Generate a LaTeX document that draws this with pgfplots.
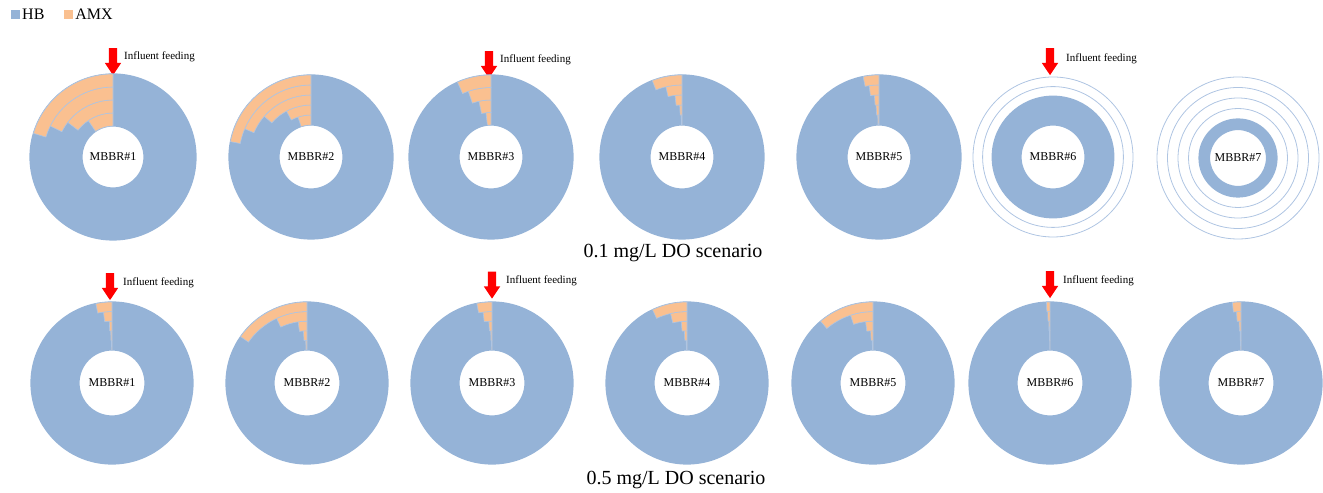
\documentclass[border=0pt]{standalone}
\usepackage{pgfplots}
\pgfplotsset{compat=1.18}
\usepackage{pgfplotstable}
\usepackage{fontspec}
\setmainfont{Liberation Serif}
\usetikzlibrary{shapes.arrows}
\definecolor{hbcol}{HTML}{95B3D7}
\definecolor{amxcol}{HTML}{FAC090}
\definecolor{ringline}{HTML}{AFC5E2}

\def\rin{10}\def\rout{20}\def\amx{0}\def\ringfill{1}
\pgfdeclareplotmark{hbring}{%
  \ifdim\ringfill pt>0.5pt
    \pgfsetfillcolor{hbcol}%
    \pgfsetstrokecolor{hbcol}%
    \pgfsetlinewidth{1.4pt}%
    \pgfseteorule
    \pgfpathcircle{\pgfpointorigin}{\rout pt - 0.1pt}%
    \pgfpathcircle{\pgfpointorigin}{\rin pt + 0.1pt}%
    \pgfusepath{fill,stroke}%
  \else
    \pgfsetstrokecolor{ringline}%
    \pgfsetlinewidth{0.8pt}%
    \pgfpathcircle{\pgfpointorigin}{\rout pt}%
    \pgfusepath{stroke}%
  \fi
}
\pgfdeclareplotmark{amxsector}{%
  \ifdim\amx pt>0pt
    \pgfkeys{/pgf/fpu=false}%
    \pgfmathsetmacro\endang{90+3.6*\amx}%
    \pgfsetfillcolor{amxcol}%
    \pgfsetstrokecolor{ringline}%
    \pgfsetlinewidth{0.6pt}%
    \pgfpathmoveto{\pgfpointpolar{90}{\rout pt}}%
    \pgfpatharc{90}{\endang}{\rout pt}%
    \pgfpathlineto{\pgfpointpolar{\endang}{\rin pt}}%
    \pgfpatharc{\endang}{90}{\rin pt}%
    \pgfpathclose
    \pgfusepath{fill,stroke}%
  \fi
}

% 0.1 mg/L DO scenario: one row per biofilm layer (ring), AMX share in %
\pgfplotstableread{
cx   cy  rin  rout amx  filled
113  335 31   44   9.5  1
113  335 44   57   14.6 1
113  335 57   70   17.7 1
113  335 70   83   20.4 1
311  335 32   42   5.0  1
311  335 42   52   7.8  1
311  335 52   62   13.6 1
311  335 62   72   18.6 1
311  335 72   82   22.0 1
491  335 32   44.5 1.8  1
491  335 44.5 57   3.4  1
491  335 57   69.5 5.3  1
491  335 69.5 82   6.7  1
682  335 32   42   0.3  1
682  335 42   52   0.7  1
682  335 52   62   1.8  1
682  335 62   72   3.6  1
682  335 72   82   5.9  1
879  335 32   42   0.5  1
879  335 42   52   0.9  1
879  335 52   62   1.2  1
879  335 62   72   2.2  1
879  335 72   82   3.1  1
1053 335 32   41.6 0    1
1053 335 41.6 51.2 0    1
1053 335 51.2 60.8 0    1
1053 335 60.8 70.4 0    0
1053 335 70.4 80   0    0
1238 334 28.5 39   0    1
1238 334 39   49.5 0    0
1238 334 49.5 60   0    0
1238 334 60   70.5 0    0
1238 334 70.5 81   0    0
}\toprings

% 0.5 mg/L DO scenario
\pgfplotstableread{
cx   cy  rin  rout amx  filled
112  109 33   42.6 0.2  1
112  109 42.6 52.2 0.4  1
112  109 52.2 61.8 0.7  1
112  109 61.8 71.4 1.9  1
112  109 71.4 81   3.2  1
307  109 33   42.6 0.5  1
307  109 42.6 52.2 1.1  1
307  109 52.2 61.8 2.3  1
307  109 61.8 71.4 7.0  1
307  109 71.4 81   15.3 1
492  109 33   42.6 0.2  1
492  109 42.6 52.2 0.4  1
492  109 52.2 61.8 0.8  1
492  109 61.8 71.4 2.0  1
492  109 71.4 81   3.0  1
687  109 33   42.6 0.3  1
687  109 42.6 52.2 0.8  1
687  109 52.2 61.8 1.5  1
687  109 61.8 71.4 3.7  1
687  109 71.4 81   7.0  1
873  109 33   42.6 0.3  1
873  109 42.6 52.2 0.7  1
873  109 52.2 61.8 1.9  1
873  109 61.8 71.4 5.1  1
873  109 71.4 81   11.2 1
1050 109 33   42.6 0.1  1
1050 109 42.6 52.2 0.2  1
1050 109 52.2 61.8 0.3  1
1050 109 61.8 71.4 0.5  1
1050 109 71.4 81   0.7  1
1241 109 33   42.6 0.2  1
1241 109 42.6 52.2 0.3  1
1241 109 52.2 61.8 0.5  1
1241 109 61.8 71.4 1.0  1
1241 109 71.4 81   1.7  1
}\botrings

\pgfplotsset{
  ringplot/.style={scatter, only marks, forget plot,
    scatter/@pre marker code/.code={\pgfscope},
    scatter/@post marker code/.code={\endpgfscope},
    visualization depends on={\thisrow{rin}\as\rin},
    visualization depends on={\thisrow{rout}\as\rout},
    visualization depends on={\thisrow{amx}\as\amx},
    visualization depends on={\thisrow{filled}\as\ringfill}},
}
\tikzset{
  lab/.style={font=\fontsize{12}{14}\selectfont},
  feed/.style={single arrow, fill=red, draw=none, rotate=-90,
        inner xsep=0pt, inner ysep=4pt, minimum width=0pt,
        minimum height=27pt, single arrow head extend=4pt,
        single arrow tip angle=68},
  feedtxt/.style={anchor=west, font=\fontsize{11}{13}\selectfont, inner sep=0pt},
}

\begin{document}
\begin{tikzpicture}
\begin{axis}[
  x=1pt, y=1pt, xmin=0, xmax=1323, ymin=0, ymax=492,
  scale only axis, hide axis, clip=false,
  legend style={at={(axis cs:8,477)}, anchor=west, draw=none, fill=none,
    font=\fontsize{16}{18}\selectfont, legend columns=2,
    /tikz/every even column/.append style={column sep=18pt}},
  legend image code/.code={\fill[#1] (2pt,-4.5pt) rectangle (11pt,4.5pt);},
]
\path (axis cs:0,0) rectangle (axis cs:1323,492);
\addlegendimage{fill=hbcol, draw=none}
\addlegendentry{HB}
\addlegendimage{fill=amxcol, draw=none}
\addlegendentry{AMX}

\addplot[ringplot, mark=hbring] table[x=cx, y=cy] {\toprings};
\addplot[ringplot, mark=amxsector] table[x=cx, y=cy] {\toprings};
\addplot[ringplot, mark=hbring] table[x=cx, y=cy] {\botrings};
\addplot[ringplot, mark=amxsector] table[x=cx, y=cy] {\botrings};

\node[lab] at (axis cs:113,335) {MBBR\#1};
\node[lab] at (axis cs:311,335) {MBBR\#2};
\node[lab] at (axis cs:491,335) {MBBR\#3};
\node[lab] at (axis cs:682,335) {MBBR\#4};
\node[lab] at (axis cs:879,335) {MBBR\#5};
\node[lab] at (axis cs:1053,335) {MBBR\#6};
\node[lab] at (axis cs:1238,334) {MBBR\#7};
\node[lab] at (axis cs:112,109) {MBBR\#1};
\node[lab] at (axis cs:307,109) {MBBR\#2};
\node[lab] at (axis cs:492,109) {MBBR\#3};
\node[lab] at (axis cs:687,109) {MBBR\#4};
\node[lab] at (axis cs:873,109) {MBBR\#5};
\node[lab] at (axis cs:1050,109) {MBBR\#6};
\node[lab] at (axis cs:1241,109) {MBBR\#7};

\node[font=\fontsize{20}{22}\selectfont] at (axis cs:673,239) {0.1 mg/L DO scenario};
\node[font=\fontsize{20}{22}\selectfont] at (axis cs:676,12) {0.5 mg/L DO scenario};

\node[feed] at (axis cs:113,433.5) {};
\node[feedtxt] at (axis cs:124,435) {Influent feeding};
\node[feed] at (axis cs:489,430.5) {};
\node[feedtxt] at (axis cs:500,432) {Influent feeding};
\node[feed] at (axis cs:1050,433.5) {};
\node[feedtxt] at (axis cs:1066,433) {Influent feeding};
\node[feed] at (axis cs:110,208.5) {};
\node[feedtxt] at (axis cs:123,209) {Influent feeding};
\node[feed] at (axis cs:492,210) {};
\node[feedtxt] at (axis cs:506,211) {Influent feeding};
\node[feed] at (axis cs:1050,210.5) {};
\node[feedtxt] at (axis cs:1063,211) {Influent feeding};
\end{axis}
\end{tikzpicture}
\end{document}
